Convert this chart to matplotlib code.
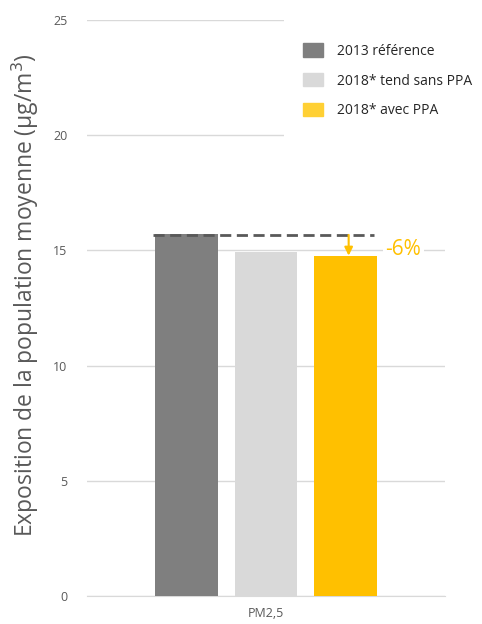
import matplotlib
matplotlib.use('Agg')
import matplotlib.pyplot as plt
from matplotlib.patches import Rectangle

# data
categories = ['PM2,5']
series = ['2013 référence', '2018* tend sans PPA', '2018* avec PPA']
values = [15.7, 14.95, 14.77]
ref_level = 15.67
change_label = '-6%'
yticks = [0, 5, 10, 15, 20, 25]

colors = ['#7f7f7f', '#d9d9d9', '#ffc000']
legend_colors = ['#7f7f7f', '#d9d9d9', '#ffd034']
txt_grey = '#595959'

plt.rcParams['font.family'] = ['Open Sans', 'DejaVu Sans']

fig = plt.figure(figsize=(4.82, 6.24), dpi=100)
ax = fig.add_axes([0.1805, 0.045, 0.7425, 0.923])

xpos = [-1, 0, 1]
width = 0.79
for x, v, c in zip(xpos, values, colors):
    ax.bar(x, v, width=width, color=c, zorder=3)

ax.set_xlim(-2.25, 2.25)
ax.set_ylim(0, 25)
ax.set_yticks(yticks)
ax.set_yticklabels([str(t) for t in yticks], color=txt_grey, fontsize=9)
ax.set_xticks([0])
ax.set_xticklabels(categories, color=txt_grey, fontsize=9)
ax.tick_params(axis='both', length=0, pad=8)
ax.tick_params(axis='y', pad=14)
ax.yaxis.grid(True, color='#d9d9d9', linewidth=1, zorder=0)
ax.set_axisbelow(True)
for s in ['top', 'right', 'left']:
    ax.spines[s].set_visible(False)
ax.spines['bottom'].set_color('#d9d9d9')

ax.set_ylabel('Exposition de la population moyenne (µg/m$^3$)', color=txt_grey,
              fontsize=16.5)
ax.yaxis.set_label_coords(-0.128, 0.522)

# reference dashed line and arrow
ax.plot([-1 - width / 2 - 0.02, 1 + width / 2 - 0.04], [ref_level, ref_level],
        color='#595959', linestyle=(0, (4, 2)), linewidth=2, zorder=4)
ax.annotate('', xy=(1.04, values[2]), xytext=(1.04, ref_level),
            arrowprops=dict(arrowstyle='-|>', color='#ffc000', lw=1.5,
                            mutation_scale=12, shrinkA=0, shrinkB=0), zorder=5)
ax.text(1.5, 15.05, change_label, color='#ffc000', fontsize=15, ha='left', va='center',
        bbox=dict(facecolor='white', edgecolor='none', pad=2), zorder=5)

# white box behind legend
ax.add_patch(Rectangle((0.55, 0.72), 0.5, 0.3, transform=ax.transAxes,
                       facecolor='white', edgecolor='none', zorder=2, clip_on=False))
handles = [Rectangle((0, 0), 1, 1, color=c) for c in legend_colors]
leg = ax.legend(handles, series, loc='upper left', bbox_to_anchor=(0.57, 0.981),
                frameon=False, fontsize=10, handlelength=1.44, handleheight=1.08,
                handletextpad=1.0, labelspacing=1.05, labelcolor='#262626')

fig.savefig('out.png', dpi=100, facecolor='white')
